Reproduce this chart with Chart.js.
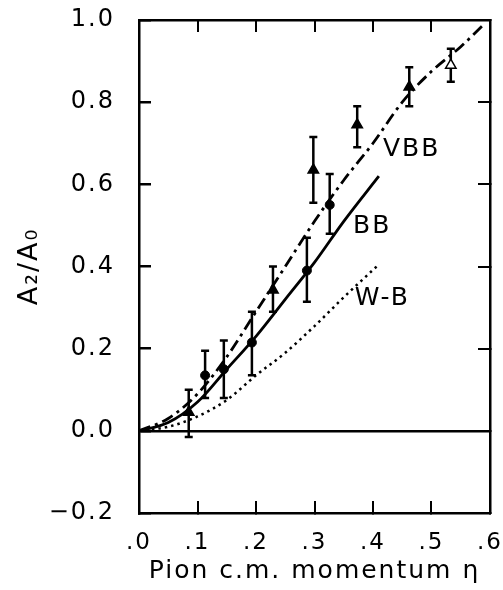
<!DOCTYPE html>
<html>
<head>
<meta charset="utf-8">
<script src="https://cdn.jsdelivr.net/npm/chart.js@4"></script>
<style>
  html, body { margin: 0; padding: 0; background: #fff; }
  #wrap { width: 503px; height: 590px; }
</style>
</head>
<body>
<div id="wrap"><canvas id="chart"></canvas></div>
<script>
// measured A2/A0, filled circles
const etaDots = [0.113, 0.145, 0.193, 0.287, 0.326];
const a2Dots = [0.135, 0.15, 0.215, 0.39, 0.55];
const lowDots = [0.08, 0.08, 0.135, 0.314, 0.48];
const highDots = [0.195, 0.22, 0.29, 0.47, 0.625];

// measured A2/A0, triangles
const etaTris = [0.085, 0.229, 0.298, 0.373, 0.462, 0.533];
const a2Tris = [0.045, 0.343, 0.635, 0.745, 0.837, 0.89];
const lowTris = [-0.015, 0.29, 0.555, 0.69, 0.79, 0.85];
const highTris = [0.10, 0.40, 0.715, 0.79, 0.885, 0.93];

// model curves
const etaVBB = [0, 0.05, 0.1, 0.15, 0.2, 0.25, 0.3, 0.35, 0.4, 0.45, 0.5, 0.55, 0.59];
const vbb = [0, 0.03, 0.09, 0.18, 0.29, 0.40, 0.51, 0.61, 0.70, 0.80, 0.875, 0.935, 0.99];
const etaModel = [0, 0.05, 0.1, 0.15, 0.2, 0.25, 0.3, 0.35, 0.41];
const bb = [0, 0.02, 0.07, 0.15, 0.23, 0.32, 0.41, 0.51, 0.62];
const wb = [0, 0.01, 0.035, 0.075, 0.135, 0.19, 0.255, 0.325, 0.405];

const curveNames = ['VBB', 'BB', 'W-B'];
const nameEta = [0.417, 0.366, 0.369];
const nameA2 = [0.669, 0.482, 0.307];

const xTickLabels = ['.0', '.1', '.2', '.3', '.4', '.5', '.6'];
const yTickLabels = ['\u22120.2', '0.0', '0.2', '0.4', '0.6', '0.8', '1.0'];

const pts = (xs, ys) => xs.map((v, i) => ({ x: v, y: ys[i] }));

// fixed axis sizes, no extra label padding pushing the plot area
const fixSize = (w, h) => s => {
    if (w !== null) s.width = w;
    if (h !== null) s.height = h;
    s.paddingTop = s.paddingBottom = s.paddingLeft = s.paddingRight = 0;
};

Chart.defaults.font.family = 'DejaVu Sans';
Chart.defaults.color = '#000';

const extras = {
    id: 'extras',
    beforeDraw(chart) {
        chart.ctx.letterSpacing = '2px';
    },
    beforeDatasetsDraw(chart) {
        const { ctx, scales: { x, y } } = chart;
        ctx.save();
        ctx.strokeStyle = '#000';
        ctx.lineWidth = 2.5;
        const bars = (etas, lows, highs) => etas.forEach((e, i) => {
            const px = x.getPixelForValue(e);
            const top = y.getPixelForValue(highs[i]);
            const bot = y.getPixelForValue(lows[i]);
            ctx.beginPath();
            ctx.moveTo(px, top); ctx.lineTo(px, bot);
            ctx.moveTo(px - 4, top); ctx.lineTo(px + 4, top);
            ctx.moveTo(px - 4, bot); ctx.lineTo(px + 4, bot);
            ctx.stroke();
        });
        bars(etaDots, lowDots, highDots);
        bars(etaTris, lowTris, highTris);
        ctx.restore();
    },
    afterDatasetsDraw(chart) {
        const { ctx, scales: { x, y } } = chart;
        ctx.save();
        ctx.fillStyle = '#000';
        ctx.font = '25px "DejaVu Sans"';
        ctx.textAlign = 'left';
        ctx.textBaseline = 'alphabetic';
        curveNames.forEach((name, i) => {
            ctx.fillText(name, x.getPixelForValue(nameEta[i]), y.getPixelForValue(nameA2[i]));
        });
        ctx.restore();
    }
};

new Chart(document.getElementById('chart'), {
    type: 'scatter',
    data: {
        datasets: [
            {
                label: 'VBB',
                data: pts(etaVBB, vbb),
                showLine: true,
                borderColor: '#000',
                borderWidth: 2.8,
                borderDash: [12, 5, 3, 5],
                pointRadius: 0,
                cubicInterpolationMode: 'monotone'
            },
            {
                label: 'BB',
                data: pts(etaModel, bb),
                showLine: true,
                borderColor: '#000',
                borderWidth: 2.8,
                pointRadius: 0,
                cubicInterpolationMode: 'monotone'
            },
            {
                label: 'W-B',
                data: pts(etaModel, wb),
                showLine: true,
                borderColor: '#000',
                borderWidth: 2.5,
                borderDash: [2.5, 4],
                pointRadius: 0,
                cubicInterpolationMode: 'monotone'
            },
            {
                label: 'data (dots)',
                data: pts(etaDots, a2Dots),
                pointStyle: 'circle',
                pointRadius: 4.5,
                backgroundColor: '#000',
                borderColor: '#000',
                borderWidth: 1
            },
            {
                label: 'data (triangles)',
                data: pts(etaTris, a2Tris),
                pointStyle: 'triangle',
                pointRadius: 6,
                backgroundColor: ['#000', '#000', '#000', '#000', '#000', '#fff'],
                borderColor: '#000',
                borderWidth: 1.5
            }
        ]
    },
    options: {
        responsive: true,
        maintainAspectRatio: false,
        animation: false,
        layout: { padding: { top: 20, right: 13, left: 0, bottom: 0 } },
        plugins: {
            legend: { display: false },
            tooltip: { enabled: false }
        },
        scales: {
            x: {
                type: 'linear',
                position: 'bottom',
                min: 0,
                max: 0.6,
                afterFit: fixSize(null, 77),
                border: { display: true, color: '#000', width: 2.5 },
                grid: { drawOnChartArea: false, tickLength: -12, tickColor: '#000', lineWidth: 2 },
                ticks: {
                    stepSize: 0.1,
                    padding: 28,
                    font: { size: 23 },
                    callback: (v, i) => xTickLabels[i]
                },
                title: {
                    display: true,
                    text: 'Pion c.m. momentum \u03b7',
                    font: { size: 25 },
                    padding: { top: 0, bottom: 4 }
                }
            },
            x2: {
                type: 'linear',
                position: 'top',
                min: 0,
                max: 0.6,
                afterFit: fixSize(null, 0),
                border: { display: true, color: '#000', width: 2.5 },
                grid: { drawOnChartArea: false, tickLength: -12, tickColor: '#000', lineWidth: 2 },
                ticks: { display: false, stepSize: 0.1 }
            },
            y: {
                type: 'linear',
                position: 'left',
                min: -0.2,
                max: 1.0,
                afterFit: fixSize(139, null),
                border: { display: true, color: '#000', width: 2.5 },
                grid: {
                    drawOnChartArea: true,
                    tickLength: -12,
                    tickColor: '#000',
                    lineWidth: 2.5,
                    color: c => Math.abs(c.tick.value) < 1e-9 ? '#000' : 'rgba(0,0,0,0)'
                },
                ticks: {
                    stepSize: 0.2,
                    padding: 36,
                    font: { size: 24 },
                    callback: (v, i) => yTickLabels[i]
                },
                title: {
                    display: true,
                    text: 'A\u2082/A\u2080',
                    font: { size: 27 },
                    padding: { top: 14, bottom: 0 }
                }
            },
            y2: {
                type: 'linear',
                position: 'right',
                min: -0.2,
                max: 1.0,
                afterFit: fixSize(0, null),
                border: { display: true, color: '#000', width: 2.5 },
                grid: { drawOnChartArea: false, tickLength: -12, tickColor: '#000', lineWidth: 2 },
                ticks: { display: false, stepSize: 0.2 }
            }
        }
    },
    plugins: [extras]
});
</script>
</body>
</html>
